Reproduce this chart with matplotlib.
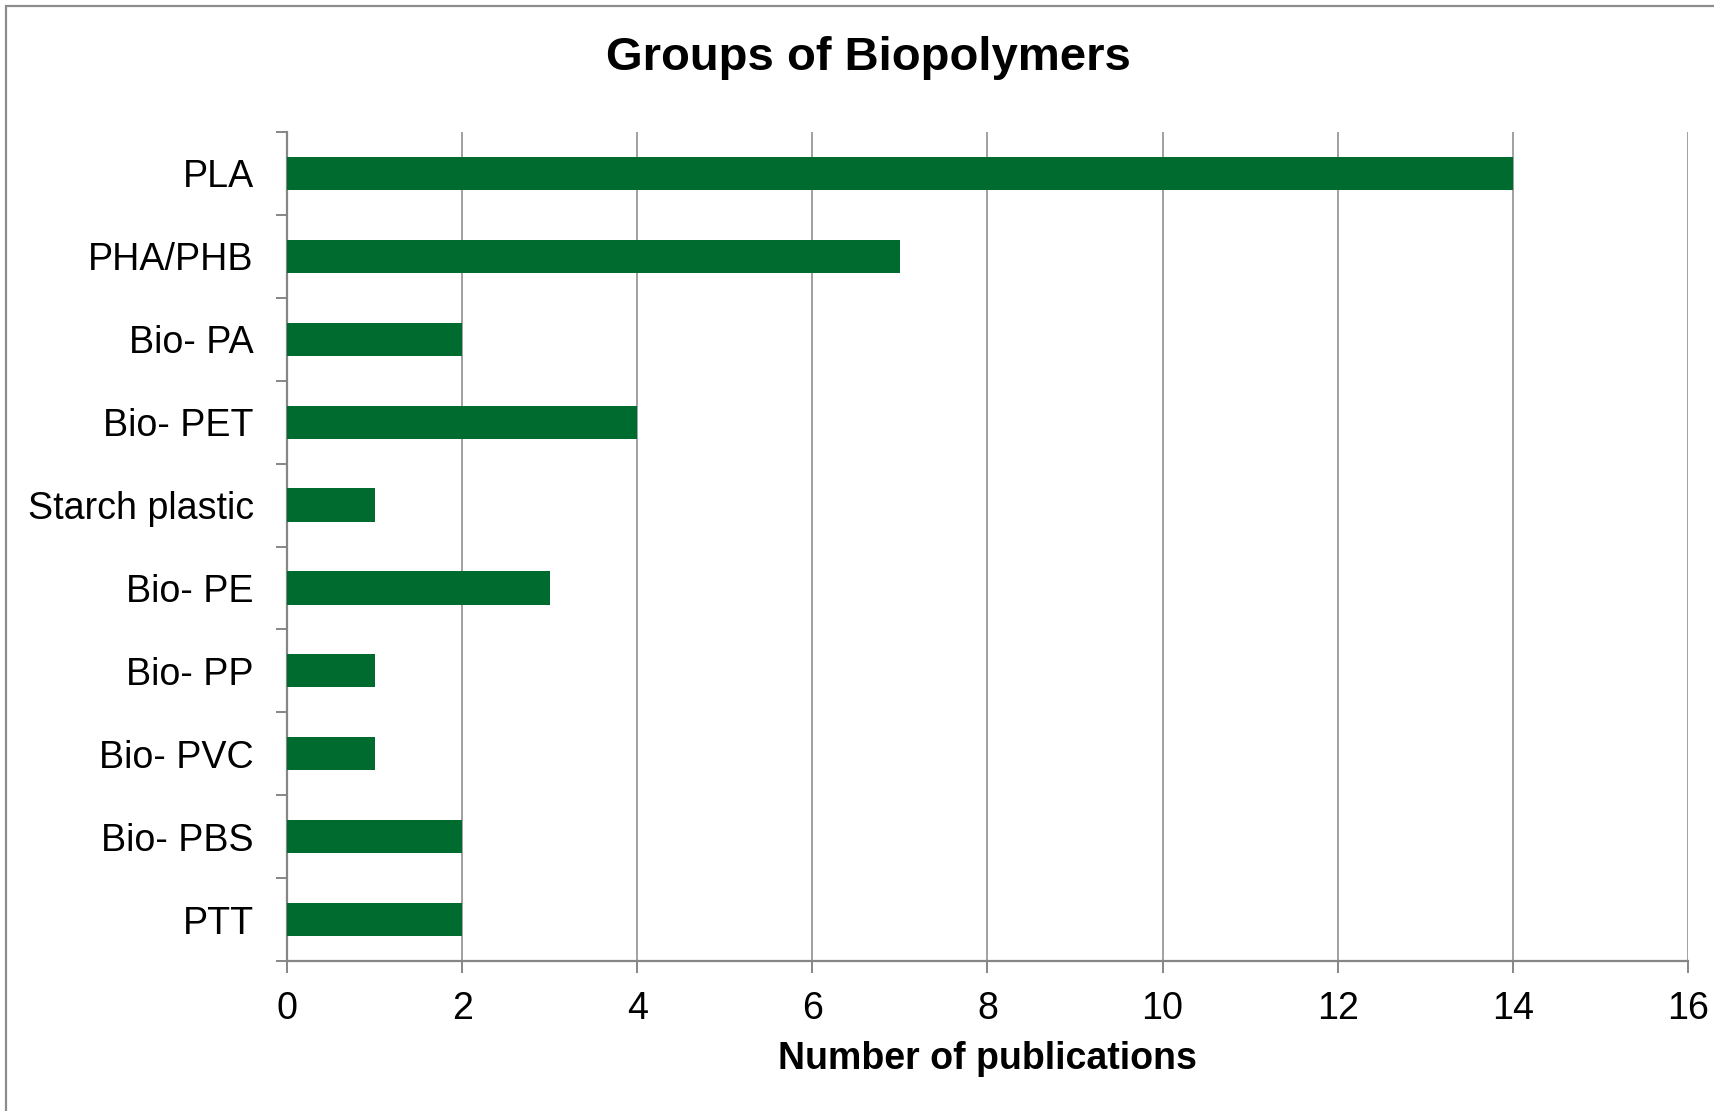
import matplotlib
matplotlib.use("Agg")
import matplotlib.pyplot as plt
from matplotlib.patches import Rectangle
import numpy as np

categories = ["PLA", "PHA/PHB", "Bio- PA", "Bio- PET", "Starch plastic",
              "Bio- PE", "Bio- PP", "Bio- PVC", "Bio- PBS", "PTT"]
values = [14, 7, 2, 4, 1, 3, 1, 1, 2, 2]
x_ticks = [0, 2, 4, 6, 8, 10, 12, 14, 16]
title = "Groups of Biopolymers"
xlabel = "Number of publications"

plt.rcParams['font.family'] = ['Liberation Sans', 'DejaVu Sans']

W, H = 1715, 1111
fig = plt.figure(figsize=(W / 100, H / 100), dpi=100)
fig.patch.set_facecolor("white")

# outer chart border (right/bottom edges run off the image)
fig.patches.append(Rectangle((6 / W, -0.05), 1.2, 1 - 6 / H + 0.05,
                             transform=fig.transFigure, fill=False,
                             edgecolor="#8c8c8c", linewidth=1.6, zorder=0))

ax = fig.add_axes([287 / W, 1 - 961 / H, (1688 - 287) / W, (961 - 132) / H])

gray = "#868686"
green = "#006B2E"
n = len(categories)
ypos = np.arange(n)
ax.barh(ypos, values, height=0.4, color=green, zorder=3)

ax.set_ylim(n - 0.5, -0.5)
ax.set_xlim(0, 16)
ax.set_xticks(x_ticks)
ax.set_xticklabels([str(t) for t in x_ticks])
ax.set_yticks(ypos)
ax.set_yticklabels(categories)
ax.set_yticks(np.arange(-0.5, n + 0.5, 1), minor=True)

ax.xaxis.grid(True, color=gray, linewidth=1.1, zorder=0)
ax.set_axisbelow(True)

for s in ["top", "right"]:
    ax.spines[s].set_visible(False)
for s in ["left", "bottom"]:
    ax.spines[s].set_color(gray)
    ax.spines[s].set_linewidth(1.6)

ax.tick_params(axis="y", which="major", length=0, pad=24, labelsize=27.1)
ax.tick_params(axis="y", which="minor", length=8, width=1.4, color=gray, direction="out")
ax.tick_params(axis="x", which="major", length=8.5, width=1.4, color=gray,
               direction="out", pad=13, labelsize=27.1)

ax.set_xlabel(xlabel, fontsize=27, fontweight="bold", labelpad=10.5)

fig.text(868 / W, 1 - 70 / H, title, ha="center", va="baseline",
         fontsize=34, fontweight="bold")

fig.savefig("out.png", dpi=100)
